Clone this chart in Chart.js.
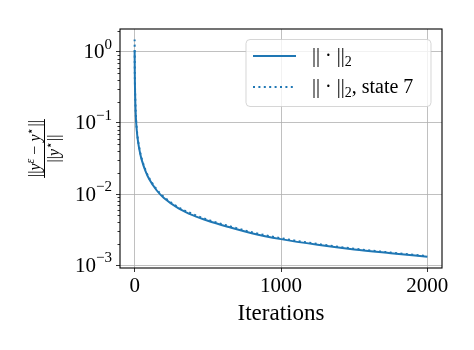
<!DOCTYPE html>
<html>
<head>
<meta charset="utf-8">
<script src="https://cdn.jsdelivr.net/npm/chart.js@4"></script>
<style>
  html, body { margin: 0; padding: 0; background: #fff; }
  canvas { display: block; }
</style>
</head>
<body>
<canvas id="c" width="474" height="350"></canvas>
<script>
// values
const ITERATIONS = [0, 1, 2, 3, 5, 7, 10, 15, 20, 30, 40, 50, 75, 100, 150, 200, 300, 400, 500, 650, 800, 1000, 1250, 1500, 1750, 2000];
const NORM2 = [1.05, 0.52, 0.35, 0.27, 0.185, 0.14, 0.105, 0.077, 0.061, 0.045, 0.0355, 0.0295, 0.0208, 0.0161, 0.0113, 0.0088, 0.0063, 0.0050, 0.0042, 0.0034, 0.00281, 0.00232, 0.00193, 0.00166, 0.00147, 0.00131];
const NORM2_STATE7 = [1.5, 0.56, 0.37, 0.285, 0.195, 0.147, 0.11, 0.081, 0.064, 0.047, 0.0369, 0.0306, 0.0216, 0.0167, 0.0117, 0.0091, 0.0065, 0.0052, 0.00435, 0.00352, 0.0029, 0.00239, 0.00198, 0.0017, 0.0015, 0.00134];
const SERIES_LABELS = ['|| · ||', '|| · ||'];
const SERIES_SUFFIX = ['', ', state 7'];
const X_TICKS = [0, 1000, 2000];
const Y_TICKS = [1e-3, 1e-2, 1e-1, 1];
const Y_EXPONENTS = ['−3', '−2', '−1', '0'];
const X_TITLE = 'Iterations';

const BLUE = '#1f77b4';
const GRID = '#b0b0b0';
const SERIF = '"Liberation Serif", "DejaVu Serif", serif';

function font(size, italic) {
  return (italic ? 'italic ' : '') + size + 'px ' + SERIF;
}

// text runs with sub/superscripts
function pieceWidth(ctx, pieces) {
  let w = 0;
  pieces.forEach(p => { ctx.font = font(p.size, p.italic); w += ctx.measureText(p.t).width; });
  return w;
}
function drawPieces(ctx, pieces, x, y) {
  pieces.forEach(p => {
    ctx.font = font(p.size, p.italic);
    ctx.fillText(p.t, x, y + (p.dy || 0));
    x += ctx.measureText(p.t).width;
  });
  return x;
}

const decorations = {
  id: 'decorations',
  afterDraw(chart) {
    const ctx = chart.ctx;
    const area = chart.chartArea;
    const ys = chart.scales.y;
    ctx.save();
    ctx.fillStyle = '#000';
    ctx.strokeStyle = '#000';

    // minor ticks on the log axis
    ctx.lineWidth = 0.8;
    for (let e = -4; e <= 0; e++) {
      for (let m = 2; m <= 9; m++) {
        const v = m * Math.pow(10, e);
        if (v < ys.min || v > ys.max) continue;
        const py = Math.round(ys.getPixelForValue(v)) + 0.5;
        ctx.beginPath();
        ctx.moveTo(area.left - 2.5, py);
        ctx.lineTo(area.left, py);
        ctx.stroke();
      }
    }

    // frame
    ctx.lineWidth = 1.1;
    ctx.strokeRect(area.left, area.top, area.right - area.left, area.bottom - area.top);

    // y tick labels 10^n
    ctx.textBaseline = 'middle';
    Y_TICKS.forEach((v, i) => {
      const py = ys.getPixelForValue(v);
      const sup = [{ t: Y_EXPONENTS[i], size: 15, dy: -8 }];
      const base = [{ t: '10', size: 21 }];
      const w = pieceWidth(ctx, base) + pieceWidth(ctx, sup);
      const x0 = area.left - 8 - w;
      const x1 = drawPieces(ctx, base, x0, py + 1);
      drawPieces(ctx, sup, x1, py + 1);
    });

    // x title
    ctx.textAlign = 'center';
    ctx.textBaseline = 'alphabetic';
    ctx.font = font(23);
    ctx.fillText(X_TITLE, (area.left + area.right) / 2, 320);
    ctx.textAlign = 'left';

    // y title: fraction, rotated
    ctx.save();
    ctx.translate(44, (area.top + area.bottom) / 2);
    ctx.rotate(-Math.PI / 2);
    const num = [
      { t: '||', size: 16 }, { t: 'y', size: 16, italic: true }, { t: 'ε', size: 12, italic: true, dy: -6 },
      { t: ' − ', size: 16 }, { t: 'y', size: 16, italic: true }, { t: '⋆', size: 12, dy: -6 }, { t: '||', size: 16 }
    ];
    const den = [
      { t: '||', size: 16 }, { t: 'y', size: 16, italic: true }, { t: '⋆', size: 12, dy: -6 }, { t: '||', size: 16 }
    ];
    const nw = pieceWidth(ctx, num), dw = pieceWidth(ctx, den);
    drawPieces(ctx, num, -nw / 2, -4);
    drawPieces(ctx, den, -dw / 2, 15);
    ctx.lineWidth = 1;
    ctx.beginPath();
    ctx.moveTo(-nw / 2 - 1, 0.5);
    ctx.lineTo(nw / 2 + 1, 0.5);
    ctx.stroke();
    ctx.restore();

    // legend box
    const lx = 246, ly = 39.5, lw = 185, lh = 67, r = 4;
    ctx.beginPath();
    ctx.moveTo(lx + r, ly);
    ctx.arcTo(lx + lw, ly, lx + lw, ly + lh, r);
    ctx.arcTo(lx + lw, ly + lh, lx, ly + lh, r);
    ctx.arcTo(lx, ly + lh, lx, ly, r);
    ctx.arcTo(lx, ly, lx + lw, ly, r);
    ctx.closePath();
    ctx.fillStyle = 'rgba(255,255,255,0.8)';
    ctx.fill();
    ctx.strokeStyle = 'rgba(204,204,204,0.8)';
    ctx.lineWidth = 1;
    ctx.stroke();

    const rows = [56, 87];
    chart.data.datasets.forEach((ds, i) => {
      ctx.strokeStyle = ds.borderColor;
      ctx.lineWidth = ds.borderWidth;
      ctx.setLineDash(ds.borderDash || []);
      ctx.beginPath();
      ctx.moveTo(253, rows[i]);
      ctx.lineTo(296, rows[i]);
      ctx.stroke();
      ctx.setLineDash([]);
      ctx.fillStyle = '#000';
      ctx.textBaseline = 'middle';
      const pieces = [
        { t: SERIES_LABELS[i], size: 20 },
        { t: '2', size: 14, dy: 5 },
        { t: SERIES_SUFFIX[i], size: 20 }
      ];
      drawPieces(ctx, pieces, 312, rows[i] + 1);
    });
    ctx.restore();
  }
};

new Chart(document.getElementById('c'), {
  type: 'line',
  data: {
    datasets: [
      {
        label: SERIES_LABELS[0] + '2' + SERIES_SUFFIX[0],
        data: ITERATIONS.map((x, i) => ({ x, y: NORM2[i] })),
        borderColor: BLUE, borderWidth: 2, pointRadius: 0,
        cubicInterpolationMode: 'monotone', fill: false
      },
      {
        label: SERIES_LABELS[1] + '2' + SERIES_SUFFIX[1],
        data: ITERATIONS.map((x, i) => ({ x, y: NORM2_STATE7[i] })),
        borderColor: BLUE, borderWidth: 2, borderDash: [2, 3.4], pointRadius: 0,
        cubicInterpolationMode: 'monotone', fill: false
      }
    ]
  },
  options: {
    responsive: false,
    animation: false,
    layout: { padding: { top: 29, right: 32, left: 0, bottom: 0 } },
    plugins: { legend: { display: false }, tooltip: { enabled: false } },
    scales: {
      x: {
        type: 'linear', min: -100, max: 2100,
        afterBuildTicks: s => { s.ticks = X_TICKS.map(v => ({ value: v })); },
        afterFit: s => { s.height = 82; },
        border: { display: false },
        grid: { color: GRID, lineWidth: 0.8, tickColor: '#000', tickLength: 4 },
        ticks: { color: '#000', font: { family: SERIF, size: 21 }, padding: 2, maxRotation: 0, callback: v => String(v) }
      },
      y: {
        type: 'logarithmic', min: 9.1e-4, max: 2.1,
        afterBuildTicks: s => { s.ticks = Y_TICKS.map(v => ({ value: v })); },
        afterFit: s => { s.width = 120; },
        border: { display: false },
        grid: { color: GRID, lineWidth: 0.8, tickColor: '#000', tickLength: 4 },
        ticks: { display: false }
      }
    }
  },
  plugins: [decorations]
});
</script>
</body>
</html>
